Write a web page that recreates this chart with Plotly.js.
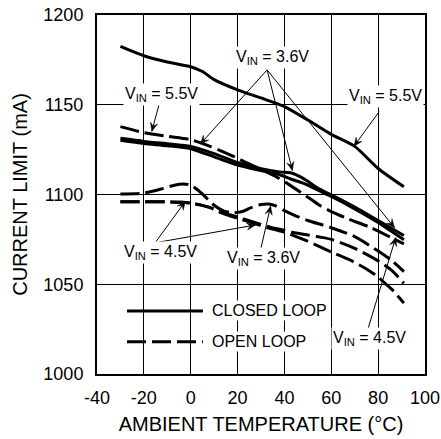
<!DOCTYPE html>
<html>
<head>
<meta charset="utf-8">
<script src="https://cdn.plot.ly/plotly-3.0.1.min.js"></script>
<style>
  html, body { margin: 0; padding: 0; background: #ffffff; }
  #chart { width: 441px; height: 439px; }
</style>
</head>
<body>
<div id="chart"></div>
<script>
// ---- data (ambient temperature in °C, current limit in mA) ----
const tempClosed55 = [-30, -20, -10, 0, 5, 10, 20, 30, 40, 50, 60, 70, 80, 91];
const currClosed55 = [1182.5, 1177.3, 1173.8, 1171.2, 1168.5, 1164, 1158.3, 1153.8, 1149, 1141.5, 1133.5, 1126.8, 1114.5, 1104.3];

const tempClosed36 = [-30, -20, -10, 0, 10, 20, 30, 38, 43, 48, 55, 60, 70, 80, 91];
const currClosed36 = [1131.3, 1129.6, 1128.3, 1126.8, 1122.8, 1117.8, 1114.4, 1112.6, 1112, 1109, 1103, 1099.8, 1093, 1085.5, 1077.2];

const tempClosed45 = [-30, -20, -10, 0, 10, 20, 30, 38, 43, 48, 55, 60, 70, 80, 91];
const currClosed45 = [1130.2, 1128.4, 1127.2, 1125.5, 1121, 1116.4, 1113.3, 1111, 1108.5, 1106.3, 1102, 1098.9, 1092, 1084.4, 1074.8];

const tempOpen55 = [-30, -20, -10, 0, 8, 17, 24, 30, 37, 42, 50, 55, 60, 67, 77, 87, 91];
const currOpen55 = [1137.8, 1134.5, 1132.4, 1130.5, 1127, 1122, 1117.6, 1114, 1109.5, 1105.5, 1098.5, 1094, 1090.5, 1086.5, 1081.5, 1075, 1072.5];

const tempOpen36 = [-30, -20, -12, -7, -3, 0, 3, 6, 10, 14, 18, 22, 26, 30, 33, 36, 40, 45, 50, 60, 70, 80, 86, 91];
const currOpen36 = [1100.3, 1100.8, 1103.3, 1105.2, 1105.8, 1105.2, 1102.5, 1099, 1094, 1090.8, 1089.8, 1090.5, 1092.8, 1094.4, 1094.7, 1093.8, 1091, 1088, 1085.5, 1081.5, 1076.5, 1068.5, 1063, 1057];

const tempOpen45a = [-30, -20, -10, -4, 0, 4, 8, 12, 17, 22, 27, 34, 40, 45, 50, 55, 60, 70, 80, 86, 91];
const currOpen45a = [1096, 1096, 1095.9, 1095.7, 1095.2, 1094.2, 1092.8, 1091, 1088.6, 1086.6, 1084.6, 1081.8, 1080, 1078.5, 1077.4, 1076.3, 1075, 1070, 1063, 1057.5, 1050.5];

const tempOpen45b = [-30, -20, -10, -4, 0, 4, 8, 12, 17, 22, 27, 34, 40, 48, 55, 60, 68, 75, 80, 83, 86, 91];
const currOpen45b = [1096, 1096, 1095.9, 1095.7, 1095.2, 1094.2, 1092.8, 1090.4, 1088, 1086, 1084, 1081, 1079, 1075, 1071, 1068, 1063.5, 1058.5, 1054, 1050.5, 1047, 1039.5];

const xTicks = [-40, -20, 0, 20, 40, 60, 80, 100];
const yTicks = [1000, 1050, 1100, 1150, 1200];

const legendLabels = ['CLOSED LOOP', 'OPEN LOOP'];
const xTitle = 'AMBIENT TEMPERATURE (°C)';
const yTitle = 'CURRENT LIMIT (mA)';

// ---- styling ----
const FONT = 'Liberation Sans, Arial, Helvetica, sans-serif';
const DASH = '19px,6px';
const LW = 3;
const X_RANGE = [-40, 100], Y_RANGE = [1000, 1200];
const MARGIN = { l: 97, r: 16, t: 15, b: 65 };
const PX_X = (441 - MARGIN.l - MARGIN.r) / (X_RANGE[1] - X_RANGE[0]);
const PX_Y = (439 - MARGIN.t - MARGIN.b) / (Y_RANGE[1] - Y_RANGE[0]);

function curve(x, y, dashed, name) {
  return {
    type: 'scatter', mode: 'lines', x: x, y: y, name: name,
    showlegend: false, hoverinfo: 'skip',
    line: { color: '#000000', width: LW, dash: dashed ? DASH : 'solid', shape: 'spline', smoothing: 0.7 }
  };
}

const data = [
  curve(tempClosed55, currClosed55, false, 'Closed loop, VIN = 5.5V'),
  curve(tempClosed36, currClosed36, false, 'Closed loop, VIN = 3.6V'),
  curve(tempClosed45, currClosed45, false, 'Closed loop, VIN = 4.5V'),
  curve(tempOpen55, currOpen55, true, 'Open loop, VIN = 5.5V'),
  curve(tempOpen36, currOpen36, true, 'Open loop, VIN = 3.6V'),
  curve(tempOpen45a, currOpen45a, true, 'Open loop, VIN = 4.5V (a)'),
  curve(tempOpen45b, currOpen45b, true, 'Open loop, VIN = 4.5V (b)')
];

function label(text, x, y) {
  return { text: text, x: x, y: y, xref: 'x', yref: 'y', showarrow: false,
    xanchor: 'center', yanchor: 'middle', bgcolor: '#ffffff', borderpad: 1,
    font: { family: FONT, size: 16, color: '#000000' } };
}

// leader arrows: thin line + barbed head (head drawn in pixel units at the tip)
const leaders = [
  [32.6, 1169.4, 4.1, 1128.1],
  [32.6, 1169.4, 43.4, 1113.4],
  [32.6, 1169.4, 87.0, 1081.5],
  [-13.0, 1152.6, -16.6, 1135.2],
  [80.4, 1146.1, 69.7, 1126.9],
  [-15.2, 1073.1, -2.3, 1096.2],
  [-15.2, 1073.1, 27.6, 1083.0],
  [29.8, 1069.1, 34.1, 1093.5],
  [75.5, 1024.5, 87.5, 1076.0]
];

const shapes = [];
leaders.forEach(function (a) {
  const tx = a[0], ty = a[1], hx = a[2], hy = a[3];
  shapes.push({ type: 'line', xref: 'x', yref: 'y', x0: tx, y0: ty, x1: hx, y1: hy,
    line: { color: '#000000', width: 1 }, layer: 'above' });
  let dx = (hx - tx) * PX_X, dy = (hy - ty) * PX_Y;
  const len = Math.hypot(dx, dy); const ux = dx / len, uy = dy / len;
  const nx = -uy, ny = ux, L = 8.5, W = 3.6, N = 0.62 * L;
  const p = (v) => v.toFixed(2);
  const path = 'M0,0 L' + p(-L * ux + W * nx) + ',' + p(-L * uy + W * ny) +
    ' L' + p(-N * ux) + ',' + p(-N * uy) +
    ' L' + p(-L * ux - W * nx) + ',' + p(-L * uy - W * ny) + ' Z';
  shapes.push({ type: 'path', xref: 'x', yref: 'y', xsizemode: 'pixel', ysizemode: 'pixel',
    xanchor: hx, yanchor: hy, path: path, fillcolor: '#000000',
    line: { color: '#000000', width: 0.5 }, layer: 'above' });
});

// legend samples
shapes.push({ type: 'line', xref: 'paper', yref: 'paper', x0: 0.0915, x1: 0.323, y0: 0.1755, y1: 0.1755,
  line: { color: '#000000', width: LW } });
shapes.push({ type: 'line', xref: 'paper', yref: 'paper', x0: 0.0915, x1: 0.323, y0: 0.09, y1: 0.09,
  line: { color: '#000000', width: LW, dash: DASH } });

const annotations = [
  label('V<sub>IN</sub> = 3.6V', 34.8, 1176.5),
  label('V<sub>IN</sub> = 5.5V', -12.3, 1155.6),
  label('V<sub>IN</sub> = 5.5V', 83.3, 1154.6),
  label('V<sub>IN</sub> = 4.5V', -13.0, 1067.8),
  label('V<sub>IN</sub> = 3.6V', 31.2, 1064.2),
  label('V<sub>IN</sub> = 4.5V', 76.2, 1019.6),
  { text: legendLabels[0], xref: 'paper', yref: 'paper', x: 0.3445, y: 0.1755,
    xanchor: 'left', yanchor: 'middle', showarrow: false, bgcolor: '#ffffff', borderpad: 1,
    font: { family: FONT, size: 16, color: '#000000' } },
  { text: legendLabels[1], xref: 'paper', yref: 'paper', x: 0.3445, y: 0.09,
    xanchor: 'left', yanchor: 'middle', showarrow: false, bgcolor: '#ffffff', borderpad: 1,
    font: { family: FONT, size: 16, color: '#000000' } }
];

const axisCommon = {
  showgrid: true, gridcolor: '#000000', gridwidth: 1,
  showline: true, linecolor: '#000000', linewidth: 2, mirror: true,
  zeroline: false, ticks: '', fixedrange: true,
  tickfont: { family: FONT, size: 18, color: '#000000' }
};

const layout = {
  width: 441, height: 439,
  margin: { l: MARGIN.l, r: MARGIN.r, t: MARGIN.t, b: MARGIN.b, pad: 0 },
  paper_bgcolor: '#ffffff', plot_bgcolor: '#ffffff',
  font: { family: FONT, color: '#000000' },
  showlegend: false,
  xaxis: Object.assign({}, axisCommon, {
    range: X_RANGE, tickmode: 'array', tickvals: xTicks, ticktext: xTicks.map(String),
    ticklabelstandoff: 6,
    title: { text: xTitle, font: { family: FONT, size: 20, color: '#000000' }, standoff: 10 }
  }),
  yaxis: Object.assign({}, axisCommon, {
    range: Y_RANGE, tickmode: 'array', tickvals: yTicks, ticktext: yTicks.map(String),
    ticklabelstandoff: 8,
    title: { text: yTitle, font: { family: FONT, size: 20, color: '#000000' }, standoff: 10 }
  }),
  annotations: annotations,
  shapes: shapes
};

Plotly.newPlot('chart', data, layout, { staticPlot: true, displayModeBar: false });
</script>
</body>
</html>
